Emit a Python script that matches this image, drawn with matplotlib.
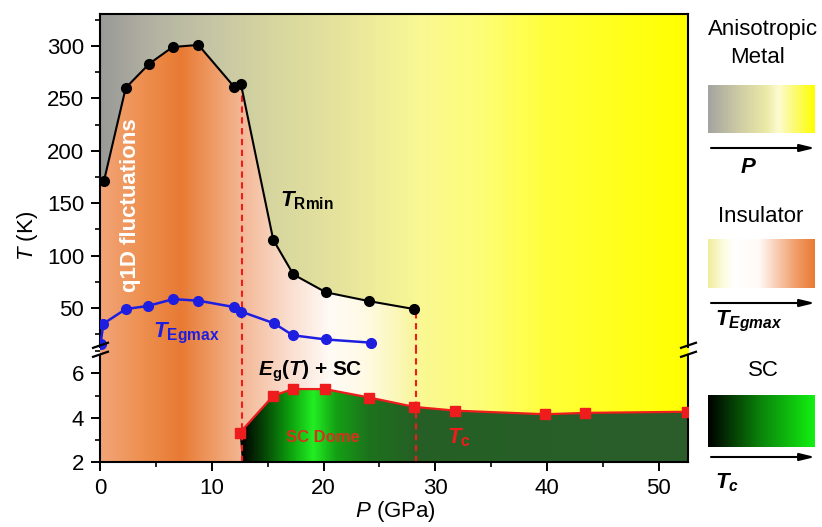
import numpy as np
import matplotlib
matplotlib.use("Agg")
import matplotlib.pyplot as plt
from matplotlib.colors import LinearSegmentedColormap
from matplotlib.patches import Polygon
from matplotlib.ticker import MultipleLocator

plt.rcParams['font.family'] = ['Liberation Sans', 'DejaVu Sans']
plt.rcParams['mathtext.fontset'] = 'custom'
plt.rcParams['mathtext.rm'] = 'Liberation Sans'
plt.rcParams['mathtext.it'] = 'Liberation Sans:italic'
plt.rcParams['mathtext.bf'] = 'Liberation Sans:bold'
plt.rcParams['mathtext.bfit'] = 'Liberation Sans:bold:italic'

# ---------------- data ----------------
TR_P = [0.35, 2.3, 4.4, 6.5, 8.8, 12.0, 12.6, 15.5, 17.3, 20.2, 24.1, 28.1]
TR_T = [171, 260, 283, 299, 301, 261, 264, 115, 82, 65, 56.5, 49]

EG_P = [0.05, 0.3, 2.3, 4.3, 6.55, 8.8, 11.95, 12.65, 15.55, 17.25, 20.2, 24.2]
EG_T = [16, 35, 49, 52, 58.5, 57, 51, 46.5, 35.5, 24, 20, 17]

TC_P = [12.5, 15.5, 17.25, 20.1, 24.1, 28.1, 31.8, 39.8, 43.4, 52.5]
TC_T = [3.32, 4.99, 5.29, 5.29, 4.91, 4.49, 4.32, 4.16, 4.22, 4.27]

P_BOUND = [12.7, 28.3]        # phase boundaries (GPa)
T_BOUND_TOP = [262, 49]       # upper ends of the dashed lines (K)

XMAX = 52.6
TOP_YLIM = (9, 330.5)
BOT_YLIM = (2, 7)

# ---------------- colours ----------------
RED = '#ee1c1c'
BLUE = '#1e1ee0'
metal_stops = [(0, '#9a9a98'), (5, '#b5b4a3'), (10, '#c6c5a5'), (15, '#d6d59f'),
               (22, '#e7e59c'), (28.5, '#f9f894'), (34, '#fdfd78'), (40, '#ffff3a'),
               (XMAX, '#ffff00')]
ins_stops = [(0, '#f2a478'), (3.5, '#ee9152'), (7.2, '#e87a34'), (10, '#ee9a64'),
             (13, '#f4bb9a'), (17, '#fadfd0'), (20.5, '#fffaf5'), (23.5, '#fffbe6'),
             (26, '#fcf8c2'), (28.3, '#f8f59c')]
sc_stops = [(12.5, '#000000'), (14.5, '#064306'), (17, '#0ea40e'), (19, '#22ee22'),
            (21, '#14a014'), (24, '#1d721d'), (28, '#256025'), (XMAX, '#2b5d2b')]


def make_cmap(stops, p0, p1):
    return LinearSegmentedColormap.from_list(
        'c', [((p - p0) / (p1 - p0), c) for p, c in stops])


GRAD = np.linspace(0, 1, 600).reshape(1, -1)

W, H = 822, 527
fig = plt.figure(figsize=(W / 100, H / 100), dpi=100)


def fbox(x0, y0, x1, y1):
    return [x0 / W, 1 - y1 / H, (x1 - x0) / W, (y1 - y0) / H]


ax_top = fig.add_axes(fbox(100, 14, 688, 351))
ax_bot = fig.add_axes(fbox(100, 351, 688, 462.3), sharex=ax_top)

cm_metal = make_cmap(metal_stops, 0, XMAX)
cm_ins = make_cmap(ins_stops, 0, P_BOUND[1])
cm_sc = make_cmap(sc_stops, TC_P[0], XMAX)

# ---- upper axes backgrounds ----
ax_top.imshow(GRAD, cmap=cm_metal, aspect='auto', extent=[0, XMAX, *TOP_YLIM],
              origin='lower', interpolation='bilinear', zorder=0)
ins_poly = [(0, TOP_YLIM[0]), (0, TR_T[0])] + list(zip(TR_P, TR_T)) + \
           [(P_BOUND[1], TR_T[-1]), (P_BOUND[1], TOP_YLIM[0])]
im = ax_top.imshow(GRAD, cmap=cm_ins, aspect='auto',
                   extent=[0, P_BOUND[1], *TOP_YLIM], origin='lower',
                   interpolation='bilinear', zorder=0.5)
im.set_clip_path(Polygon(ins_poly, closed=True, transform=ax_top.transData))

# ---- lower axes backgrounds ----
ax_bot.imshow(GRAD, cmap=cm_metal, aspect='auto', extent=[0, XMAX, *BOT_YLIM],
              origin='lower', interpolation='bilinear', zorder=0)
ax_bot.imshow(GRAD, cmap=cm_ins, aspect='auto', extent=[0, P_BOUND[1], *BOT_YLIM],
              origin='lower', interpolation='bilinear', zorder=0.5)
sc_poly = [(P_BOUND[0], BOT_YLIM[0])] + list(zip(TC_P, TC_T)) + \
          [(XMAX, TC_T[-1]), (XMAX, BOT_YLIM[0])]
im2 = ax_bot.imshow(GRAD, cmap=cm_sc, aspect='auto', extent=[TC_P[0], XMAX, *BOT_YLIM],
                    origin='lower', interpolation='bilinear', zorder=0.6)
im2.set_clip_path(Polygon(sc_poly, closed=True, transform=ax_bot.transData))

# ---- dashed boundaries ----
dash = (0, (3, 2.2))
ax_top.vlines(P_BOUND, TOP_YLIM[0], T_BOUND_TOP, colors=RED, linestyles=dash, lw=1.5, zorder=2)
ax_bot.vlines(P_BOUND, BOT_YLIM[0], BOT_YLIM[1], colors=RED, linestyles=dash, lw=1.5, zorder=2)

# ---- curves ----
ax_top.plot(TR_P, TR_T, '-o', color='black', ms=7, lw=1.5, zorder=3)
ax_top.plot(EG_P, EG_T, '-o', color=BLUE, ms=7, lw=1.8, zorder=3)
ax_bot.plot(TC_P, TC_T, '-s', color=RED, ms=6.5, lw=1.6, zorder=3)

# ---- axes styling ----
ax_top.set_xlim(0, XMAX)
ax_top.set_ylim(*TOP_YLIM)
ax_bot.set_ylim(*BOT_YLIM)
for ax in (ax_top, ax_bot):
    for s in ax.spines.values():
        s.set_linewidth(1.5)
    ax.tick_params(axis='both', which='major', direction='out', length=6.5, width=1.4,
                   labelsize=16, pad=5)
    ax.tick_params(axis='both', which='minor', direction='out', length=3.6, width=1.2)
    ax.tick_params(axis='y', right=False, which='both')
    ax.tick_params(axis='x', top=False, which='both')
ax_top.spines['bottom'].set_visible(False)
ax_bot.spines['top'].set_visible(False)
ax_top.spines['left'].set_bounds(13.2, TOP_YLIM[1])
ax_top.spines['right'].set_bounds(13.2, TOP_YLIM[1])
ax_bot.spines['left'].set_bounds(BOT_YLIM[0], 6.8)
ax_bot.spines['right'].set_bounds(BOT_YLIM[0], 6.8)
ax_top.tick_params(axis='x', which='both', bottom=False, labelbottom=False)
ax_top.yaxis.set_major_locator(MultipleLocator(50))
ax_top.yaxis.set_minor_locator(MultipleLocator(25))
ax_bot.yaxis.set_major_locator(MultipleLocator(2))
ax_bot.yaxis.set_minor_locator(MultipleLocator(1))
ax_bot.xaxis.set_major_locator(MultipleLocator(10))
ax_bot.xaxis.set_minor_locator(MultipleLocator(5))

# ---- annotations ----
ax_top.text(2.7, 148, 'q1D fluctuations', rotation=90, ha='center', va='center',
            color='white', fontsize=16, fontweight='bold', zorder=4)
ax_top.text(16.1, 146.5, r'$\mathbfit{T}_{\mathbf{Rmin}}$', ha='left', va='baseline',
            fontsize=16, color='black', zorder=4)
ax_top.text(4.75, 21.6, r'$\mathbfit{T}_{\mathbf{Egmax}}$', ha='left', va='baseline',
            fontsize=16, color=BLUE, zorder=4)
ax_bot.text(14.1, 5.91, r'$\mathbfit{E}_{\mathbf{g}}\mathbf{(}\mathbfit{T}\mathbf{)}$' + ' + SC',
            ha='left', va='baseline', fontsize=15, fontweight='bold', color='black', zorder=4)
ax_bot.text(19.9, 2.91, 'SC Dome', ha='center', va='baseline', fontsize=12,
            fontweight='bold', color='#d8301e', zorder=4)
ax_bot.text(31.07, 2.87, r'$\mathbfit{T}_{\mathbf{c}}$', ha='left', va='baseline',
            fontsize=16, color=RED, zorder=4)

# ---- overlay for labels, break marks and side legend ----
ov = fig.add_axes([0, 0, 1, 1], zorder=10)
ov.set_xlim(0, W)
ov.set_ylim(H, 0)
ov.axis('off')
ov.patch.set_visible(False)

ov.text(27, 236, r'$\mathit{T}$ (K)', rotation=90, ha='center', va='center', fontsize=16)
ov.text(395, 512, r'$\mathit{P}$ (GPa)', ha='center', va='center', fontsize=16)

for xc in (100, 688):
    for yc in (345.4, 354.4):
        ov.plot([xc - 8, xc + 9], [yc + 2.8, yc - 3.0], color='black', lw=1.6,
                solid_capstyle='butt')

# side legend
leg_metal = [(0, '#a4a4a0'), (0.3, '#cfcda4'), (0.55, '#eceaa6'), (0.66, '#fdfcd2'),
             (0.78, '#fbfa86'), (1, '#ffff00')]
leg_ins = [(0, '#efed9c'), (0.15, '#fdfce2'), (0.25, '#ffffff'), (0.48, '#fffaf6'),
           (0.62, '#fad2bc'), (0.82, '#f09e6a'), (1, '#e87a34')]
leg_sc = [(0, '#000000'), (0.5, '#0a860a'), (1, '#12f012')]
bars = [(85, 133, leg_metal), (239, 288, leg_ins), (395, 447, leg_sc)]
for y0, y1, stops in bars:
    bax = fig.add_axes(fbox(708, y0, 814, y1))
    bax.imshow(GRAD, cmap=LinearSegmentedColormap.from_list('l', stops),
               aspect='auto', interpolation='bilinear')
    bax.axis('off')

for ya in (148, 303, 457):
    ov.annotate('', xy=(815, ya), xytext=(711, ya),
                arrowprops=dict(arrowstyle='-|>,head_length=0.9,head_width=0.22',
                                color='black', lw=1.5, shrinkA=0, shrinkB=0))

ov.text(763, 35, 'Anisotropic', ha='center', va='baseline', fontsize=16)
ov.text(757, 63, 'Metal', ha='center', va='baseline', fontsize=16)
ov.text(740, 173, r'$\mathbfit{P}$', ha='left', va='baseline', fontsize=16)
ov.text(761, 222, 'Insulator', ha='center', va='baseline', fontsize=16)
ov.text(715, 325, r'$\mathbfit{T}_{\mathbfit{Egmax}}$', ha='left', va='baseline', fontsize=16)
ov.text(763, 376, 'SC', ha='center', va='baseline', fontsize=16)
ov.text(715, 488, r'$\mathbfit{T}_{\mathbfit{c}}$', ha='left', va='baseline', fontsize=16)

fig.savefig('out.png', dpi=100)
